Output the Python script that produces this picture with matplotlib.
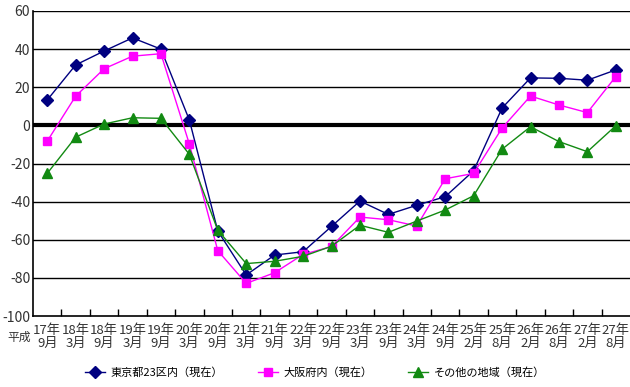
import matplotlib.pyplot as plt
import numpy as np

plt.rcParams['font.family'] = ['Noto Sans CJK JP', 'DejaVu Sans']
plt.rcParams['axes.unicode_minus'] = False

# x categories (平成 year/month)
periods = ["17年\n9月", "18年\n3月", "18年\n9月", "19年\n3月", "19年\n9月",
           "20年\n3月", "20年\n9月", "21年\n3月", "21年\n9月", "22年\n3月",
           "22年\n9月", "23年\n3月", "23年\n9月", "24年\n3月", "24年\n9月",
           "25年\n2月", "25年\n8月", "26年\n2月", "26年\n8月", "27年\n2月",
           "27年\n8月"]

tokyo = [13.3, 31.7, 39.0, 45.9, 40.0, 2.8, -55.4, -78.5, -68.0, -66.3,
         -53.0, -39.7, -46.7, -41.9, -37.4, -23.8, 9.1, 24.9, 24.7, 23.7, 29.1]
osaka = [-8.3, 15.3, 29.7, 36.3, 37.6, -9.8, -65.7, -82.9, -77.3, -67.7,
         -63.6, -48.1, -49.5, -52.8, -28.0, -25.2, -1.4, 15.4, 10.7, 6.7, 25.6]
other = [-25.2, -6.2, 0.7, 4.0, 3.7, -15.2, -55.0, -72.5, -71.3, -68.7,
         -63.4, -52.4, -56.1, -50.2, -44.4, -36.9, -12.5, -0.7, -8.5, -13.8, -0.2]

labels = ["東京都23区内（現在）", "大阪府内（現在）", "その他の地域（現在）"]

fig = plt.figure(figsize=(6.3, 3.87), dpi=100)
ax = fig.add_axes([33/630, 1-316/387, 1-33/630, 305/387])

x = np.arange(len(periods))
ax.plot(x, tokyo, color='#000080', marker='D', markersize=6, lw=1, label=labels[0])
ax.plot(x, osaka, color='#ff00ff', marker='s', markersize=6, lw=1, label=labels[1])
ax.plot(x, other, color='#128a12', marker='^', markersize=6.5, lw=1, label=labels[2])

ax.set_xlim(-0.5, len(periods) - 0.5)
ax.set_ylim(-100, 60)
ax.set_yticks(np.arange(-100, 61, 20))
for yv in np.arange(-80, 61, 20):
    ax.axhline(yv, color='black', lw=3 if yv == 0 else 1, zorder=1)

ax.set_xticks(x)
ax.set_xticklabels(periods, fontsize=9.5, color='#333333', linespacing=0.95)
ax.set_xticks(np.arange(0.5, len(periods) - 1, 1), minor=True)
ax.tick_params(axis='x', which='major', length=0, pad=6)
ax.tick_params(axis='x', which='minor', direction='in', length=5, width=1, color='black')
ax.tick_params(axis='y', length=0, labelsize=10, colors='#333333', pad=2)

for s in ['top', 'right']:
    ax.spines[s].set_visible(False)
ax.spines['left'].set_linewidth(1.2)
ax.spines['bottom'].set_linewidth(1.2)

fig.text(19/630, 1-337/387, "平成", fontsize=8.5, color='#333333', ha='center', va='center')

fig.legend(loc='center', bbox_to_anchor=(0.5, 1-373/387), ncol=3, frameon=False,
           fontsize=8, handlelength=1.8, columnspacing=3.2, handletextpad=0.5)

fig.savefig('out.png', dpi=100)
